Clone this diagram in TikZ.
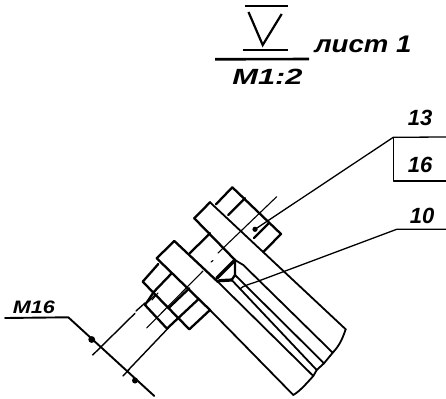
\documentclass[tikz,border=0pt]{standalone}
\usepackage{fontspec}
\setmainfont{Liberation Sans}
\tikzset{
  hand/.style={inner sep=0pt,font=\bfseries\itshape},
  outline/.style={line width=2.3pt,line join=round,line cap=round},
  body/.style={line width=1.8pt,line join=round,line cap=round},
  heavy/.style={line width=3.2pt,line join=round,line cap=round},
  thin/.style={line width=1.1pt,line cap=round,line join=round}
}
\begin{document}
\begin{tikzpicture}[x=1pt,y=-1pt]
\useasboundingbox (0,0) rectangle (446,398);
% title symbol
\draw[line width=2.4pt] (245,6) -- (288,6);
\draw[line width=2.2pt] (248.5,12) -- (262.7,45) -- (281.7,14);
\draw[line width=2.4pt] (242.5,50) -- (288,50);
\draw[line width=2.6pt] (215,59.3) -- (309,59);
\node[hand,font=\bfseries\itshape\fontsize{22}{22}\selectfont,xscale=1.4] (scale) at (267.5,77) {М1:2};
\node[hand,font=\bfseries\itshape\fontsize{24}{24}\selectfont,xscale=1.15] (sheet) at (363,44) {лист 1};
% upper nut
\draw[outline] (216,204.3) -- (232.3,187.3) -- (281,234) -- (263.3,252);
\draw[outline] (245,198.3) -- (228.3,215);
\draw[outline] (268,224) -- (254,238);
% upper plate
\draw[outline] (194.3,218.3) -- (210,202.3);
\draw[body] (210,202.3) -- (345.7,329.3);
\draw[outline] (194.3,218.3) -- (235,260);
\draw[body] (235,260) -- (243.3,265) -- (332.7,352.7);
% spacer
\draw[outline] (210,233.3) -- (190,253);
\draw[heavy] (216.7,278.3) -- (235,260);
\draw[outline] (235,260) -- (235,275) -- (231.7,280);
\draw[heavy] (219,280.7) -- (231.7,280);
% body lines
\draw[body] (235,275) -- (324,363.3);
\draw[body] (231.7,280) -- (316.7,370);
\draw[body] (216.5,280.5) -- (313.3,376);
% body end
\draw[body] (293.3,395) .. controls (300,391) and (306,384) .. (313.3,376) -- (316.7,370) -- (324,363.3) -- (332.7,352.7) .. controls (339,346) and (342,340) .. (345.7,329.3);
% lower plate
\draw[outline] (174.3,241) -- (156.7,258.3);
\draw[outline] (174.3,241) -- (218,282);
\draw[outline] (156.7,258.3) -- (210,310);
\draw[body] (210,310) -- (293.3,395);
% lower nut
\draw[outline] (158.3,264) -- (142.7,281.7) -- (189.3,329.3) -- (210,310);
\draw[outline] (171.7,273.3) -- (154,291.7) -- (145,305) -- (166.7,328.3);
\draw[outline] (189.3,288.3) -- (168.3,308.3);
\draw[outline] (198.3,299.3) -- (167.3,328.3);
\draw[thin] (148,302) -- (155,295);
\draw[thin] (152,300) -- (158,293);
\draw[thin] (171,325) -- (178,318);
% bolt lines
\coordinate (dimA) at (92.7,355);
\coordinate (dimB) at (126.7,371.7);
\draw[thin,line width=1.4pt] (dimA) -- (135,313.3);
\draw[thin,line width=1.4pt] (136,311) -- (145,303);
\draw[thin,line width=1.4pt] (dimB) -- (168.3,328);
% centre line
\draw[thin] (146.7,328) -- (203,271);
\draw[thin] (211,262) -- (213,260.5);
\draw[thin] (218,253) -- (276.7,196.7);
% dimension M16
\coordinate (dimL) at (5,318);
\coordinate (dimK) at (68.3,317.3);
\coordinate (dimE) at (154.3,396);
\draw[line width=1.9pt,line cap=round,line join=round] (dimL) -- (dimK) -- (dimE);
\fill (91.7,339.5) circle (3.4pt);
\fill (135,380.5) circle (3pt);
\draw[thin,line width=1.4pt] (123,376) -- (129.5,369);
\node[hand,font=\bfseries\itshape\fontsize{18}{18}\selectfont,xscale=1.2] (mlabel) at (34,307) {М16};
% leader 13/16
\coordinate (ldA) at (255,229.3);
\coordinate (ldB) at (393.3,137.3);
\coordinate (ldC) at (446,137);
\coordinate (ldD) at (393.3,181);
\coordinate (ldE) at (446,181);
\draw[line width=1.3pt] (ldA) -- (ldB) -- (ldC);
\draw[line width=1.5pt,line join=round] (ldB) -- (ldD) -- (ldE);
\fill (ldA) circle (2.6pt);
\node[hand,font=\bfseries\itshape\fontsize{22}{22}\selectfont] (pos13) at (420,118) {13};
\node[hand,font=\bfseries\itshape\fontsize{22}{22}\selectfont] (pos16) at (420,165) {16};
% leader 10
\coordinate (leA) at (240,289);
\coordinate (leB) at (256.7,281.7);
\coordinate (leC) at (396.7,229.3);
\coordinate (leD) at (446,229.3);
\draw[line width=1.3pt,line join=round] (leA) .. controls (243,286) and (247,285) .. (leB) -- (leC) -- (leD);
\node[hand,font=\bfseries\itshape\fontsize{22}{22}\selectfont] (pos10) at (422,216) {10};
\end{tikzpicture}
\end{document}
